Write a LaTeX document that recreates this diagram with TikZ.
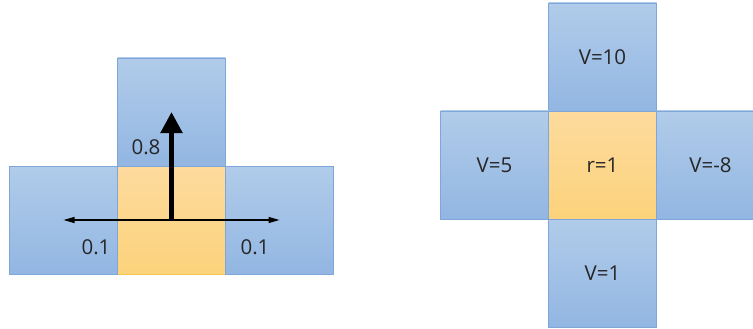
\documentclass[tikz,border=0pt]{standalone}
\usepackage{fontspec}
\setmainfont{Open Sans}
\usetikzlibrary{positioning}
\usetikzlibrary{arrows.meta}

\definecolor{bluetop}{RGB}{177,204,234}
\definecolor{bluebot}{RGB}{146,182,226}
\definecolor{blueline}{RGB}{126,166,216}
\definecolor{orgtop}{RGB}{253,219,158}
\definecolor{orgbot}{RGB}{252,210,123}
\definecolor{orgline}{RGB}{246,196,80}
\definecolor{txt}{RGB}{38,38,38}

\tikzset{
  cell/.style={minimum size=108pt, inner sep=0pt, outer sep=0pt,
    draw=blueline, line width=0.8pt, top color=bluetop, bottom color=bluebot,
    text=txt, font=\fontsize{20.5}{24}\selectfont},
  start/.style={cell, draw=orgline, top color=orgtop, bottom color=orgbot},
  prob/.style={text=txt, font=\fontsize{20.5}{24}\selectfont, inner sep=0pt},
}

\begin{document}
\begin{tikzpicture}[x=1pt, y=-1pt, node distance=0pt]
    \useasboundingbox (0,0) rectangle (753,329);

    % left: moving probabilities
    \node[start] (c) at (171.5,220) {};
    \node[cell] (u) [above=of c] {};
    \node[cell] (l) [left=of c] {};
    \node[cell] (r) [right=of c] {};

    \draw[line width=5pt, -{Triangle[width=21pt,length=21pt]}] (c.center) -- (u.center);
    \draw[line width=1.3pt, -{Triangle[width=6pt,length=11pt]}] (c.center) -- (l.center);
    \draw[line width=1.3pt, -{Triangle[width=6pt,length=11pt]}] (c.center) -- (r.center);

    \node[prob] (pu) at (146,147) {0.8};
    \node[prob] (pl) at (96,247) {0.1};
    \node[prob] (pr) at (255,247) {0.1};

    % right: values of the neighbours
    \node[start] (s) at (602.5,165) {r=1};
    \node[cell] (su) [above=of s] {V=10};
    \node[cell] (sl) [left=of s] {V=5};
    \node[cell] (sr) [right=of s] {V=-8};
    \node[cell] (sd) [below=of s] {V=1};
\end{tikzpicture}
\end{document}
